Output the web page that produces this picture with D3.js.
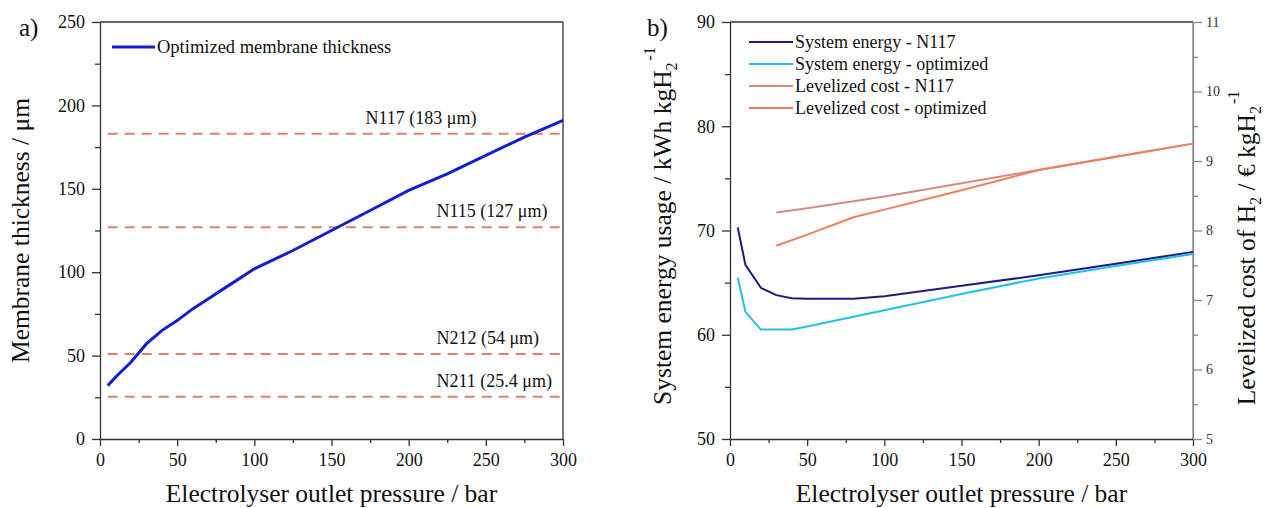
<!DOCTYPE html>
<html>
<head>
<meta charset="utf-8">
<script src="https://cdn.jsdelivr.net/npm/d3@7"></script>
<style>
  svg text, svg tspan { font-family: 'Liberation Serif', 'Times New Roman', 'Tinos' !important; }
</style>
</head>
<body style="margin:0">
<svg id="mainSvg" width="1266" height="508" font-family="Liberation Serif"></svg>
<script>
// ---- data ----
var thickPressure = [5, 10, 20, 30, 40, 50, 60, 70, 80, 90, 100, 125, 150, 175, 200, 225, 250, 275, 300];
var thickValues   = [32, 37, 46, 57, 65, 71, 78, 84, 90, 96, 102, 113, 125, 137, 149, 159, 170, 181, 191];

var membraneNames  = ["N117 (183 \u03bcm)", "N115 (127 \u03bcm)", "N212 (54 \u03bcm)", "N211 (25.4 \u03bcm)"];
var membraneLevels = [183, 127, 51, 25.4];
var membraneLabelX = [172, 218, 218, 218];

var energyPressure  = [5, 10, 20, 30, 40, 50, 80, 100, 150, 200, 250, 300];
var energyN117      = [70.3, 66.7, 64.5, 63.8, 63.5, 63.45, 63.45, 63.7, 64.7, 65.7, 66.8, 67.95];
var energyOptPressure = [5, 10, 20, 40, 50, 100, 150, 200, 250, 300];
var energyOpt       = [65.5, 62.2, 60.5, 60.5, 60.8, 62.35, 63.9, 65.4, 66.6, 67.75];

var costPressure = [30, 50, 80, 100, 150, 200, 250, 300];
var costN117     = [8.26, 8.32, 8.42, 8.49, 8.68, 8.87, 9.06, 9.25];
var costOpt      = [7.78, 7.94, 8.19, 8.30, 8.58, 8.87, 9.06, 9.25];

var legendB = ["System energy - N117", "System energy - optimized", "Levelized cost - N117", "Levelized cost - optimized"];
var colorsB = ["#1c1c80", "#22c0e8", "#d48a7e", "#f27d5e"];

var svg = d3.select("#mainSvg");
var serifFont = "'Liberation Serif', 'Times New Roman', 'Tinos'";

function drawFrame(g, x0, x1, y0, y1, rightColor){
    g.append("line").attr("x1",x0).attr("x2",x1).attr("y1",y0).attr("y2",y0)
        .attr("stroke","#333").attr("stroke-width",1.3);
    g.append("line").attr("x1",x1).attr("x2",x1).attr("y1",y0).attr("y2",y1)
        .attr("stroke",rightColor).attr("stroke-width",1.3);
}

function styleAxis(sel, color, size){
    sel.attr("font-family","Liberation Serif").attr("font-size",size);
    sel.selectAll("path").attr("stroke",color).attr("stroke-width",1.3);
    sel.selectAll("line").attr("stroke",color).attr("stroke-width",1.3);
    sel.selectAll("text").style("font-family",serifFont).style("font-size",size).attr("fill","#111");
}

function xAxes(g, x, y1){
    var maj = g.append("g").attr("transform","translate(0,"+y1+")")
        .call(d3.axisBottom(x).tickValues(d3.range(0,301,50)).tickSize(7).tickSizeOuter(0).tickPadding(7));
    styleAxis(maj, "#333", "18px");
    var mnr = g.append("g").attr("transform","translate(0,"+y1+")")
        .call(d3.axisBottom(x).tickValues(d3.range(25,300,50)).tickSize(4).tickSizeOuter(0).tickFormat(""));
    styleAxis(mnr, "#333", "18px");
    mnr.select("path").remove();
}

function label(g){
    return g.append("text").style("font-family",serifFont).attr("fill","#111");
}

// ================= panel a =================
var A = {x0:100, x1:563, y0:22, y1:439};
var gA = svg.append("g");
var xA = d3.scaleLinear().domain([0,300]).range([A.x0, A.x1]);
var yA = d3.scaleLinear().domain([0,250]).range([A.y1, A.y0]);

drawFrame(gA, A.x0, A.x1, A.y0, A.y1, "#333");
xAxes(gA, xA, A.y1);

var yAmaj = gA.append("g").attr("transform","translate("+A.x0+",0)")
    .call(d3.axisLeft(yA).tickValues(d3.range(0,251,50)).tickSize(8).tickSizeOuter(0).tickPadding(7));
styleAxis(yAmaj, "#333", "18px");
var yAmin = gA.append("g").attr("transform","translate("+A.x0+",0)")
    .call(d3.axisLeft(yA).tickValues(d3.range(25,250,50)).tickSize(5).tickSizeOuter(0).tickFormat(""));
styleAxis(yAmin, "#333", "18px");
yAmin.select("path").remove();

// membrane reference lines
var memb = gA.selectAll(".memb").data(membraneLevels).enter().append("g");
memb.append("line")
    .attr("x1", xA(5)).attr("x2", xA(300))
    .attr("y1", function(d){ return yA(d); })
    .attr("y2", function(d){ return yA(d); })
    .attr("stroke","#e0806c").attr("stroke-width",2)
    .attr("stroke-dasharray","10,7");
memb.append("text")
    .attr("x", function(d,i){ return xA(membraneLabelX[i]); })
    .attr("y", function(d){ return yA(d) - 10; })
    .style("font-family",serifFont).style("font-size","18px").attr("fill","#111")
    .text(function(d,i){ return membraneNames[i]; });

var lineA = d3.line().x(function(d,i){ return xA(thickPressure[i]); }).y(function(d){ return yA(d); });
gA.append("path").datum(thickValues).attr("d",lineA)
    .attr("fill","none").attr("stroke","#1020d0").attr("stroke-width",3);

// legend a
gA.append("line").attr("x1",112).attr("x2",155).attr("y1",47).attr("y2",47)
    .attr("stroke","#1020d0").attr("stroke-width",3);
label(gA).attr("x",157).attr("y",53).style("font-size","18.5px").text("Optimized membrane thickness");

label(gA).attr("x",19).attr("y",36).style("font-size","25px").text("a)");

label(gA).attr("x",(A.x0+A.x1)/2).attr("y",502).attr("text-anchor","middle")
    .style("font-size","25.5px").text("Electrolyser outlet pressure / bar");

label(gA).attr("transform","translate(29,"+((A.y0+A.y1)/2)+") rotate(-90)")
    .attr("text-anchor","middle").style("font-size","25.5px")
    .text("Membrane thickness / \u03bcm");

// ================= panel b =================
var B = {x0:730, x1:1193, y0:22, y1:439};
var gB = svg.append("g");
var xB = d3.scaleLinear().domain([0,300]).range([B.x0, B.x1]);
var yB = d3.scaleLinear().domain([50,90]).range([B.y1, B.y0]);
var yB2 = d3.scaleLinear().domain([5,11]).range([B.y1, B.y0]);

drawFrame(gB, B.x0, B.x1, B.y0, B.y1, "#888");
xAxes(gB, xB, B.y1);

var yBmaj = gB.append("g").attr("transform","translate("+B.x0+",0)")
    .call(d3.axisLeft(yB).tickValues(d3.range(50,91,10)).tickSize(8).tickSizeOuter(0).tickPadding(7));
styleAxis(yBmaj, "#333", "18px");
var yBmin = gB.append("g").attr("transform","translate("+B.x0+",0)")
    .call(d3.axisLeft(yB).tickValues(d3.range(55,90,10)).tickSize(5).tickSizeOuter(0).tickFormat(""));
styleAxis(yBmin, "#333", "18px");
yBmin.select("path").remove();

var yB2maj = gB.append("g").attr("transform","translate("+B.x1+",0)")
    .call(d3.axisRight(yB2).tickValues(d3.range(5,11.1,1)).tickFormat(d3.format("d"))
        .tickSize(9).tickSizeOuter(0).tickPadding(4));
styleAxis(yB2maj, "#888", "14px");
yB2maj.selectAll("text").attr("fill","#333");
var yB2min = gB.append("g").attr("transform","translate("+B.x1+",0)")
    .call(d3.axisRight(yB2).tickValues(d3.range(5.5,11,1)).tickSize(5).tickSizeOuter(0).tickFormat(""));
styleAxis(yB2min, "#888", "14px");
yB2min.select("path").remove();

var lineE = function(xs){ return d3.line().x(function(d,i){ return xB(xs[i]); }).y(function(d){ return yB(d); }); };
var lineC = d3.line().x(function(d,i){ return xB(costPressure[i]); }).y(function(d){ return yB2(d); });

gB.append("path").datum(costN117).attr("d",lineC).attr("fill","none").attr("stroke",colorsB[2]).attr("stroke-width",2);
gB.append("path").datum(costOpt).attr("d",lineC).attr("fill","none").attr("stroke",colorsB[3]).attr("stroke-width",2);
gB.append("path").datum(energyOpt).attr("d",lineE(energyOptPressure)).attr("fill","none").attr("stroke",colorsB[1]).attr("stroke-width",2);
gB.append("path").datum(energyN117).attr("d",lineE(energyPressure)).attr("fill","none").attr("stroke",colorsB[0]).attr("stroke-width",2);

// legend b
var legB = gB.selectAll(".legB").data(legendB).enter().append("g")
    .attr("transform",function(d,i){ return "translate(749,"+(42 + i*22)+")"; });
legB.append("line").attr("x1",0).attr("x2",44).attr("y1",0).attr("y2",0)
    .attr("stroke",function(d,i){ return colorsB[i]; }).attr("stroke-width",2);
legB.append("text").attr("x",46).attr("y",6).style("font-family",serifFont).style("font-size","18px")
    .attr("fill","#111").text(function(d){ return d; });

label(gB).attr("x",647).attr("y",36).style("font-size","25px").text("b)");

label(gB).attr("x",(B.x0+B.x1)/2).attr("y",502).attr("text-anchor","middle")
    .style("font-size","25.5px").text("Electrolyser outlet pressure / bar");

var tL = label(gB).attr("transform","translate(671,226) rotate(-90)")
    .attr("text-anchor","middle").style("font-size","25.5px");
tL.append("tspan").text("System energy usage / kWh kgH");
tL.append("tspan").attr("dy",6).style("font-size","16px").text("2");
tL.append("tspan").attr("dy",-22).attr("dx",2).style("font-size","16px").text("-1");

var tR = label(gB).attr("transform","translate(1255,248) rotate(-90)")
    .attr("text-anchor","middle").style("font-size","25.5px");
tR.append("tspan").text("Levelized cost of H");
tR.append("tspan").attr("dy",6).style("font-size","16px").text("2");
tR.append("tspan").attr("dy",-6).text(" / \u20ac kgH");
tR.append("tspan").attr("dy",6).style("font-size","16px").text("2");
tR.append("tspan").attr("dy",-22).attr("dx",2).style("font-size","16px").text("-1");
</script>
</body>
</html>
